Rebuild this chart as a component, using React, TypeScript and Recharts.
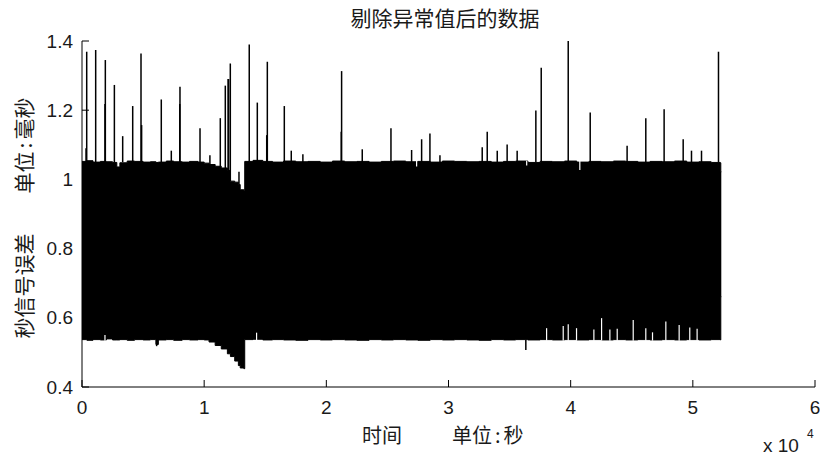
import { Area, ComposedChart, ErrorBar, Scatter, XAxis, YAxis } from "recharts";

const NUM_FONT = '"Liberation Sans", Arial, sans-serif';
const CJK_FONT = '"Noto Sans CJK SC", "Noto Sans", sans-serif';

// axis ticks
const xTicks = [0, 10000, 20000, 30000, 40000, 50000, 60000];
const xTickLabels = ["0", "1", "2", "3", "4", "5", "6"];
const yTicks = [0.4, 0.6, 0.8, 1.0, 1.2, 1.4];
const yTickLabels = ["0.4", "0.6", "0.8", "1", "1.2", "1.4"];

// envelope of the dense signal (seconds, max, min)
const bandX = [
  0, 400, 900, 1500, 2000, 2500, 2850, 3100, 3700, 4300, 5000, 5600, 6050, 6250,
  6900, 7500, 8200, 8800, 9500, 10000, 10400, 10900, 11400, 11900, 12150, 12500,
  12800, 12950, 13250, 13320, 14000, 14800, 15600, 16500, 17500, 18500, 19500,
  20500, 21500, 22500, 23500, 24500, 25500, 26500, 27500, 28500, 29500, 30500,
  31500, 32500, 33500, 34500, 35500, 36500, 37500, 38500, 39500, 40500, 41500,
  42500, 43500, 44500, 45500, 46500, 47500, 48500, 49500, 50500, 51500, 52250,
  52290, 52330,
];
const bandHigh = [
  1.052, 1.054, 1.05, 1.052, 1.051, 1.049, 1.036, 1.048, 1.053, 1.052, 1.05,
  1.051, 1.049, 1.05, 1.053, 1.051, 1.05, 1.052, 1.05, 1.047, 1.043, 1.038,
  1.033, 1.026, 0.995, 0.992, 0.985, 0.97, 0.969, 1.052, 1.055, 1.052, 1.05,
  1.053, 1.051, 1.052, 1.05, 1.053, 1.051, 1.052, 1.05, 1.052, 1.053, 1.051,
  1.052, 1.05, 1.053, 1.052, 1.051, 1.052, 1.05, 1.052, 1.053, 1.049, 1.052,
  1.051, 1.053, 1.05, 1.052, 1.051, 1.053, 1.052, 1.05, 1.052, 1.051, 1.053,
  1.05, 1.051, 1.049, 1.048, 1.022, 1.022,
];
const bandLow = [
  0.537, 0.535, 0.537, 0.536, 0.539, 0.536, 0.536, 0.537, 0.535, 0.537, 0.536,
  0.537, 0.523, 0.536, 0.537, 0.535, 0.537, 0.536, 0.537, 0.536, 0.53, 0.52,
  0.51, 0.496, 0.488, 0.475, 0.462, 0.455, 0.453, 0.537, 0.538, 0.536, 0.537,
  0.536, 0.535, 0.537, 0.536, 0.537, 0.536, 0.535, 0.537, 0.536, 0.537, 0.536,
  0.535, 0.537, 0.536, 0.537, 0.536, 0.535, 0.537, 0.536, 0.537, 0.536, 0.537,
  0.536, 0.537, 0.536, 0.537, 0.536, 0.537, 0.536, 0.537, 0.536, 0.537, 0.536,
  0.537, 0.536, 0.537, 0.536, 0.661, 0.661,
];

// isolated spikes sticking out of the band (black)
const spikeX = [
  330, 385, 1120, 1880, 1910, 2650, 3330, 4150, 4830, 4880, 6490, 7310, 8000,
  8020, 9660, 10470, 11320, 11730, 11960, 12000, 12140, 12850, 13690, 14350,
  15120, 15170, 16560, 17130, 18080, 21220, 21250, 22940, 25290, 26980, 27800,
  28480, 29300, 32760, 33170, 33990, 34800, 35620, 37150, 37590, 39800, 41600,
  44620, 46150, 47650, 49210, 49890, 50710, 52100, 6110, 36330,
];
const spikeTop = [
  1.09, 1.369, 1.374, 1.218, 1.345, 1.273, 1.125, 1.212, 1.364, 1.157, 1.231,
  1.083, 1.218, 1.268, 1.148, 1.07, 1.177, 1.271, 1.29, 1.29, 1.335, 1.022,
  1.39, 1.222, 1.128, 1.34, 1.212, 1.083, 1.073, 1.138, 1.313, 1.087, 1.148,
  1.085, 1.116, 1.133, 1.07, 1.093, 1.138, 1.083, 1.101, 1.083, 1.199, 1.323,
  1.4, 1.193, 1.097, 1.177, 1.203, 1.116, 1.083, 1.083, 1.369, 0.518, 0.507,
];
const spikeBase = [
  1.05, 1.05, 1.05, 1.05, 1.05, 1.05, 1.05, 1.05, 1.05, 1.05, 1.05, 1.05, 1.05,
  1.05, 1.05, 1.043, 1.035, 1.03, 1.02, 1.02, 0.995, 0.985, 1.05, 1.05, 1.05,
  1.05, 1.05, 1.05, 1.05, 1.05, 1.05, 1.05, 1.05, 1.05, 1.05, 1.05, 1.05, 1.05,
  1.05, 1.05, 1.05, 1.05, 1.05, 1.05, 1.05, 1.05, 1.05, 1.05, 1.05, 1.05, 1.05,
  1.05, 1.05, 0.536, 0.536,
];

// gaps in the band edges (white)
const gapX = [
  1880, 14290, 38030, 39390, 39800, 40480, 41900, 42530, 43210, 43810, 45120,
  46150, 46700, 47790, 48880, 49750, 50350, 27390, 36400, 40750,
];
const gapEnd = [
  0.55, 0.557, 0.57, 0.576, 0.581, 0.57, 0.566, 0.599, 0.566, 0.568, 0.594,
  0.57, 0.558, 0.589, 0.579, 0.572, 0.568, 1.037, 1.04, 1.027,
];
const gapBase = [
  0.534, 0.534, 0.534, 0.534, 0.534, 0.534, 0.534, 0.534, 0.534, 0.534, 0.534,
  0.534, 0.534, 0.534, 0.534, 0.534, 0.534, 1.054, 1.054, 1.054,
];

const bandData = bandX.map((x, i) => ({ x, range: [bandLow[i], bandHigh[i]] }));

const toBars = (xs: number[], tops: number[], bases: number[]) =>
  xs.map((x, i) => ({
    x,
    y: tops[i],
    err: [Math.max(0, tops[i] - bases[i]), Math.max(0, bases[i] - tops[i])],
  }));

const spikeData = toBars(spikeX, spikeTop, spikeBase);
const gapData = toBars(gapX, gapEnd, gapBase);

const labelStyle = { fontSize: 19, fontFamily: NUM_FONT, fill: "#1a1a1a" };

function BottomTick({ x, y, payload }: any) {
  return (
    <g>
      <line x1={x} x2={x} y1={y} y2={y - 7} stroke="#000" />
      <text x={x} y={y + 20} textAnchor="middle" dominantBaseline="central" {...labelStyle}>
        {xTickLabels[xTicks.indexOf(payload.value)]}
      </text>
    </g>
  );
}

function LeftTick({ x, y, payload }: any) {
  const i = yTicks.findIndex((t) => Math.abs(t - payload.value) < 1e-6);
  return (
    <g>
      <line x1={x} x2={x + 7} y1={y} y2={y} stroke="#000" />
      <text x={x - 9} y={y} textAnchor="end" dominantBaseline="central" {...labelStyle}>
        {yTickLabels[i]}
      </text>
    </g>
  );
}

function TopTick({ x, y }: any) {
  return <line x1={x} x2={x} y1={y} y2={y + 7} stroke="#000" />;
}

function RightTick({ x, y }: any) {
  return <line x1={x} x2={x - 7} y1={y} y2={y} stroke="#000" />;
}

export default function App() {
  return (
    <div style={{ position: "absolute", left: 0, top: 0, width: 820, height: 456, background: "#fff" }}>
      <div
        style={{
          position: "absolute",
          left: 0,
          width: 890,
          top: 7,
          textAlign: "center",
          fontSize: 21,
          lineHeight: "21px",
          fontFamily: CJK_FONT,
          color: "#1a1a1a",
        }}
      >
        剔除异常值后的数据
      </div>

      <ComposedChart width={820} height={456} margin={{ top: 41, right: 5, bottom: 39, left: 0 }}>
        <XAxis
          dataKey="x"
          type="number"
          domain={[0, 60000]}
          ticks={xTicks}
          interval={0}
          allowDataOverflow
          height={30}
          tickSize={0}
          tickMargin={0}
          tickLine={false}
          axisLine={{ stroke: "#000" }}
          tick={BottomTick}
        />
        <XAxis
          xAxisId="top"
          orientation="top"
          type="number"
          domain={[0, 60000]}
          ticks={xTicks}
          interval={0}
          height={0}
          tickSize={0}
          tickMargin={0}
          tickLine={false}
          axisLine={{ stroke: "#000" }}
          tick={TopTick}
        />
        <YAxis
          type="number"
          domain={[0.4, 1.4]}
          ticks={yTicks}
          interval={0}
          allowDataOverflow
          width={82}
          tickSize={0}
          tickMargin={0}
          tickLine={false}
          axisLine={{ stroke: "#000" }}
          tick={LeftTick}
        />
        <YAxis
          yAxisId="right"
          orientation="right"
          type="number"
          domain={[0.4, 1.4]}
          ticks={yTicks}
          interval={0}
          width={0}
          tickSize={0}
          tickMargin={0}
          tickLine={false}
          axisLine={{ stroke: "#000" }}
          tick={RightTick}
        />
        <Area
          data={bandData}
          dataKey="range"
          type="stepAfter"
          stroke="#000"
          strokeWidth={1}
          fill="#000"
          fillOpacity={1}
          dot={false}
          activeDot={false}
          isAnimationActive={false}
        />
        <Scatter data={spikeData} dataKey="y" shape={() => <g />} isAnimationActive={false}>
          <ErrorBar dataKey="err" direction="y" width={0} stroke="#000" strokeWidth={1.5} isAnimationActive={false} />
        </Scatter>
        <Scatter data={gapData} dataKey="y" shape={() => <g />} isAnimationActive={false}>
          <ErrorBar dataKey="err" direction="y" width={0} stroke="#fff" strokeWidth={1.2} isAnimationActive={false} />
        </Scatter>
      </ComposedChart>

      <div
        style={{
          position: "absolute",
          left: 23,
          top: 218,
          transform: "translate(-50%, -50%) rotate(-90deg)",
          whiteSpace: "nowrap",
          fontSize: 21,
          lineHeight: "21px",
          fontFamily: CJK_FONT,
          color: "#1a1a1a",
        }}
      >
        秒信号误差
        <span style={{ display: "inline-block", width: 40 }} />
        单位<span style={{ padding: "0 3px" }}>:</span>毫秒
      </div>

      <div style={{ position: "absolute", left: 362, top: 425, fontSize: 20, lineHeight: "20px", fontFamily: CJK_FONT, color: "#1a1a1a", whiteSpace: "nowrap" }}>
        时间
      </div>
      <div style={{ position: "absolute", left: 452, top: 425, fontSize: 20, lineHeight: "20px", fontFamily: CJK_FONT, color: "#1a1a1a", whiteSpace: "nowrap" }}>
        单位<span style={{ padding: "0 3px" }}>:</span>秒
      </div>

      <div style={{ position: "absolute", left: 763, top: 436, fontSize: 19, lineHeight: "19px", fontFamily: NUM_FONT, color: "#1a1a1a", whiteSpace: "nowrap" }}>
        x 10
      </div>
      <div style={{ position: "absolute", left: 807, top: 428, fontSize: 12, lineHeight: "12px", fontFamily: NUM_FONT, color: "#1a1a1a" }}>
        4
      </div>
    </div>
  );
}
